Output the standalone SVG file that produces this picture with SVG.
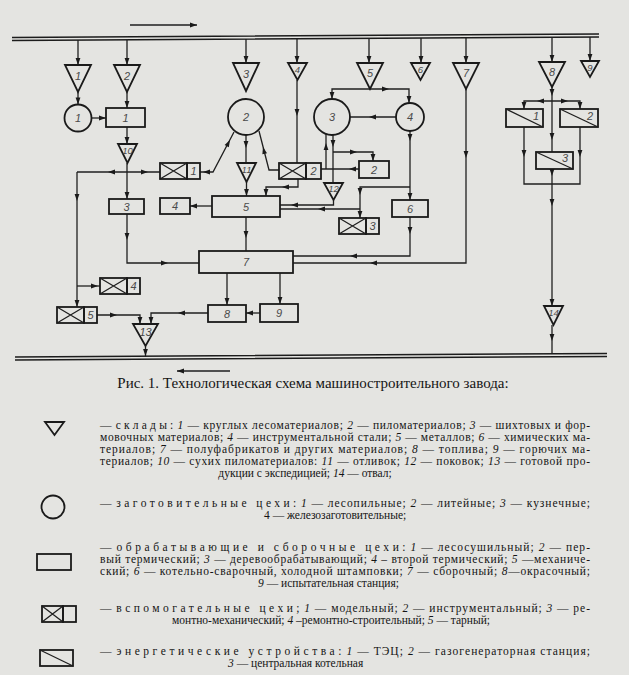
<svg xmlns="http://www.w3.org/2000/svg" xmlns:xlink="http://www.w3.org/1999/xlink" width="629" height="675" viewBox="0 0 629 675">
<style>
.ln{fill:none;stroke:#1f1f1f;stroke-width:1.3}
.rl{fill:none;stroke:#1c1c1c;stroke-width:1.5}
.nd{fill:none;stroke:#1a1a1a;stroke-width:1.8}
.lb{font-family:"Liberation Sans",Arial,sans-serif;font-style:italic;font-size:11px;fill:#4a4a4a;text-anchor:middle}
.sm{font-size:9.5px}
.tx{font-family:"Liberation Serif","Times New Roman",serif;font-size:11.5px;fill:#141414}
.it{font-style:italic}
.sp{letter-spacing:2.5px}
.ttl{font-family:"Liberation Serif","Times New Roman",serif;font-size:15px;fill:#141414;text-anchor:middle}
</style>
<defs>
<path id="ah" d="M0,0 L-7,-2.4 L-7,2.4 Z" fill="#1a1a1a"/>
<g id="xb"><rect class="nd" x="0" y="0" width="27" height="16"/><path class="ln" d="M0,0 L27,16 M0,16 L27,0"/></g>
</defs>
<rect x="0" y="0" width="629" height="675" fill="#e4e4e1"/>

<!-- rails -->
<g id="rails">
<path class="rl" d="M12,37.5 L599,34 M12,40.5 L599,37"/>
<path class="ln" d="M130,25 L197,25"/><use href="#ah" transform="translate(197,25)"/>
<path class="rl" d="M15,357 L607,353.5 M15,360 L607,356.5"/>
<path class="ln" d="M177,371 L230,371"/><use href="#ah" transform="translate(177,371) rotate(180)"/>
</g>

<!-- connectors -->
<g id="connectors">
<path class="ln" d="M78,40 V65 M127,40 V65 M246,39 V63 M297,39 V63 M369,38 V63 M421,38 V63 M466,38 V63 M552,37 V62 M590,37 V61"/>
<use href="#ah" transform="translate(78,65) rotate(90)"/>
<use href="#ah" transform="translate(127,65) rotate(90)"/>
<use href="#ah" transform="translate(246,63) rotate(90)"/>
<use href="#ah" transform="translate(297,63) rotate(90)"/>
<use href="#ah" transform="translate(369,63) rotate(90)"/>
<use href="#ah" transform="translate(421,63) rotate(90)"/>
<use href="#ah" transform="translate(466,63) rotate(90)"/>
<use href="#ah" transform="translate(552,62) rotate(90)"/>
<use href="#ah" transform="translate(590,61) rotate(90)"/>
<!-- left column -->
<path class="ln" d="M78,92 V104.5"/><use href="#ah" transform="translate(78,104.5) rotate(90)"/>
<path class="ln" d="M91.5,118 H106"/><use href="#ah" transform="translate(106,118)"/>
<path class="ln" d="M127,92 V108"/><use href="#ah" transform="translate(127,108) rotate(90)"/>
<path class="ln" d="M127,127 V144"/><use href="#ah" transform="translate(127,144) rotate(90)"/>
<path class="ln" d="M127,163 V199"/><use href="#ah" transform="translate(127,199) rotate(90)"/>
<path class="ln" d="M77,172 H160"/><use href="#ah" transform="translate(108,172) rotate(180)"/><use href="#ah" transform="translate(148,172)"/>
<path class="ln" d="M77,172 V307"/><use href="#ah" transform="translate(77,201) rotate(90)"/><use href="#ah" transform="translate(77,307) rotate(90)"/>
<path class="ln" d="M77,286 H100"/><use href="#ah" transform="translate(98,286)"/>
<path class="ln" d="M127,214 V263 H199"/><use href="#ah" transform="translate(127,240) rotate(90)"/><use href="#ah" transform="translate(168,263)"/>
<!-- foundry -->
<path class="ln" d="M200,172 H213 L234,132"/><use href="#ah" transform="translate(203,172) rotate(180)"/><use href="#ah" transform="translate(230,140) rotate(-62)"/>
<path class="ln" d="M246,135 V163"/><use href="#ah" transform="translate(246,148) rotate(90)"/>
<path class="ln" d="M246.5,182 V196"/><use href="#ah" transform="translate(246.5,196) rotate(90)"/>
<path class="ln" d="M259,131 L269,170 H279"/><use href="#ah" transform="translate(263,147) rotate(-104)"/>
<path class="ln" d="M297,80 V163"/><use href="#ah" transform="translate(297,116) rotate(90)"/>
<path class="ln" d="M298,179 V187 H266 V196"/><use href="#ah" transform="translate(282,187) rotate(180)"/><use href="#ah" transform="translate(266,196) rotate(90)"/>
<!-- forge -->
<path class="ln" d="M359,169 H321"/><use href="#ah" transform="translate(349,169) rotate(180)"/>
<path class="ln" d="M326,169 V134"/><use href="#ah" transform="translate(326,143) rotate(-90)"/>
<path class="ln" d="M333,135 V183"/><use href="#ah" transform="translate(333,147) rotate(90)"/>
<path class="ln" d="M333,152 H373 V161"/><use href="#ah" transform="translate(357,152)"/><use href="#ah" transform="translate(373,161) rotate(90)"/>
<path class="ln" d="M333.5,200 V205 H280"/><use href="#ah" transform="translate(291,205) rotate(180)"/>
<path class="ln" d="M332,99 V89 H409 V103"/><use href="#ah" transform="translate(332,99) rotate(90)"/><use href="#ah" transform="translate(409,103) rotate(90)"/><use href="#ah" transform="translate(389,89)"/>
<path class="ln" d="M396,117 H350"/><use href="#ah" transform="translate(369,117) rotate(180)"/>
<path class="ln" d="M410,131 V200"/><use href="#ah" transform="translate(410,141) rotate(90)"/><use href="#ah" transform="translate(410,200) rotate(90)"/>
<path class="ln" d="M410,187 H360 V218"/><use href="#ah" transform="translate(360,195) rotate(90)"/><use href="#ah" transform="translate(360,218) rotate(90)"/>
<path class="ln" d="M360,209 H280"/><use href="#ah" transform="translate(318,209) rotate(180)"/>
<path class="ln" d="M410,217 V256 H293"/><use href="#ah" transform="translate(410,234) rotate(90)"/><use href="#ah" transform="translate(350,256) rotate(180)"/>
<path class="ln" d="M466,89 V263 H293"/><use href="#ah" transform="translate(466,158) rotate(90)"/><use href="#ah" transform="translate(370,263) rotate(180)"/>
<!-- machining / assembly -->
<path class="ln" d="M212,206 H190"/><use href="#ah" transform="translate(190,206) rotate(180)"/>
<path class="ln" d="M246,217 V251"/><use href="#ah" transform="translate(246,238) rotate(90)"/>
<path class="ln" d="M227,273 V305"/><use href="#ah" transform="translate(227,305) rotate(90)"/>
<path class="ln" d="M280,273 V304"/><use href="#ah" transform="translate(280,304) rotate(90)"/>
<path class="ln" d="M260,313 H246"/><use href="#ah" transform="translate(246,313) rotate(180)"/>
<path class="ln" d="M208,313 H151 V324"/><use href="#ah" transform="translate(178,313) rotate(180)"/><use href="#ah" transform="translate(151,324) rotate(90)"/>
<path class="ln" d="M97,315 H140 V324"/><use href="#ah" transform="translate(117,315)"/><use href="#ah" transform="translate(140,324) rotate(90)"/>
<path class="ln" d="M145.5,346 V357"/><use href="#ah" transform="translate(145.5,356) rotate(90)"/>
<!-- energy -->
<path class="ln" d="M552,87 V152"/><use href="#ah" transform="translate(552,96) rotate(90)"/><use href="#ah" transform="translate(552,140) rotate(90)"/>
<path class="ln" d="M524,109 V101 H580 V109"/><use href="#ah" transform="translate(537,101) rotate(180)"/><use href="#ah" transform="translate(568,101)"/><use href="#ah" transform="translate(524,109) rotate(90)"/><use href="#ah" transform="translate(580,109) rotate(90)"/>
<path class="ln" d="M524,127 V184 H580 V127"/><use href="#ah" transform="translate(524,157) rotate(90)"/><use href="#ah" transform="translate(580,157) rotate(90)"/>
<path class="ln" d="M552,169 V306"/><use href="#ah" transform="translate(552,176) rotate(90)"/><use href="#ah" transform="translate(552,206) rotate(90)"/><use href="#ah" transform="translate(552,306) rotate(90)"/>
<path class="ln" d="M552,325 V354"/><use href="#ah" transform="translate(552,341) rotate(90)"/>
</g>

<!-- storages (triangles) -->
<g id="t1"><path class="nd" d="M65,65 H91 L78,92 Z"/><text class="lb" x="78" y="80">1</text></g>
<g id="t2"><path class="nd" d="M114,65 H140 L127,92 Z"/><text class="lb" x="127" y="80">2</text></g>
<g id="t3"><path class="nd" d="M233,63 H259 L246,91 Z"/><text class="lb" x="246" y="78">3</text></g>
<g id="t4"><path class="nd" d="M288,63 H307 L297.5,80 Z"/><text class="lb sm" x="297.5" y="73">4</text></g>
<g id="t5"><path class="nd" d="M357,63 H383 L370,89 Z"/><text class="lb" x="370" y="77">5</text></g>
<g id="t6"><path class="nd" d="M411,63 H430 L420.5,80 Z"/><text class="lb sm" x="420.5" y="73">6</text></g>
<g id="t7"><path class="nd" d="M453,63 H479 L466,89 Z"/><text class="lb" x="466" y="77">7</text></g>
<g id="t8"><path class="nd" d="M539,62 H565 L552,87 Z"/><text class="lb" x="552" y="76">8</text></g>
<g id="t9"><path class="nd" d="M581,61 H599 L590,77 Z"/><text class="lb sm" x="590" y="71">9</text></g>
<g id="t10"><path class="nd" d="M118,144 H137 L127.5,163 Z"/><text class="lb sm" x="127.5" y="154">10</text></g>
<g id="t11"><path class="nd" d="M237,163 H256 L246.5,182 Z"/><text class="lb sm" x="246.5" y="173">11</text></g>
<g id="t12"><path class="nd" d="M324,183 H343 L333.5,200 Z"/><text class="lb sm" x="333.5" y="192">12</text></g>
<g id="t13"><path class="nd" d="M133,324 H158 L145.5,346 Z"/><text class="lb" x="145.5" y="336">13</text></g>
<g id="t14"><path class="nd" d="M544,306 H563 L553.5,325 Z"/><text class="lb sm" x="553.5" y="316">14</text></g>

<!-- blank shops (circles) -->
<g id="c1"><circle class="nd" cx="78" cy="118" r="13.5"/><text class="lb" x="78" y="122">1</text></g>
<g id="c2"><circle class="nd" cx="246" cy="117" r="18"/><text class="lb" x="246" y="121">2</text></g>
<g id="c3"><circle class="nd" cx="332" cy="117" r="18"/><text class="lb" x="332" y="121">3</text></g>
<g id="c4"><circle class="nd" cx="410" cy="117" r="14"/><text class="lb" x="410" y="121">4</text></g>

<!-- processing shops (rectangles) -->
<g id="r1"><rect class="nd" x="106" y="108" width="39" height="19"/><text class="lb" x="125.5" y="121.5">1</text></g>
<g id="r2"><rect class="nd" x="359" y="161" width="30" height="17"/><text class="lb" x="374" y="173.5">2</text></g>
<g id="r3"><rect class="nd" x="109" y="199" width="35" height="15"/><text class="lb" x="126.5" y="210.5">3</text></g>
<g id="r4"><rect class="nd" x="160" y="198" width="30" height="16"/><text class="lb" x="175" y="210">4</text></g>
<g id="r5"><rect class="nd" x="212" y="196" width="68" height="21"/><text class="lb" x="246" y="210.5">5</text></g>
<g id="r6"><rect class="nd" x="392" y="200" width="36" height="17"/><text class="lb" x="410" y="212.5">6</text></g>
<g id="r7"><rect class="nd" x="199" y="251" width="94" height="22"/><text class="lb" x="246" y="266">7</text></g>
<g id="r8"><rect class="nd" x="208" y="305" width="38" height="17"/><text class="lb" x="227" y="317.5">8</text></g>
<g id="r9"><rect class="nd" x="260" y="304" width="38" height="18"/><text class="lb" x="279" y="317">9</text></g>

<!-- auxiliary shops -->
<g id="a1"><use href="#xb" transform="translate(160,163)"/><rect class="nd" x="187" y="163" width="13" height="16"/><text class="lb" x="193.5" y="175">1</text></g>
<g id="a2"><use href="#xb" transform="translate(279,163)"/><rect class="nd" x="306" y="163" width="15" height="16"/><text class="lb" x="313.5" y="175">2</text></g>
<g id="a3"><use href="#xb" transform="translate(339,218)"/><rect class="nd" x="366" y="218" width="13" height="16"/><text class="lb" x="372.5" y="230">3</text></g>
<g id="a4"><use href="#xb" transform="translate(100,278)"/><rect class="nd" x="127" y="278" width="13" height="16"/><text class="lb" x="133.5" y="290">4</text></g>
<g id="a5"><use href="#xb" transform="translate(57,307)"/><rect class="nd" x="84" y="307" width="13" height="16"/><text class="lb" x="90.5" y="319">5</text></g>

<!-- energy -->
<g id="e1"><rect class="nd" x="506" y="109" width="37" height="18"/><path class="ln" d="M506,109 L543,127"/><text class="lb" x="536" y="120">1</text></g>
<g id="e2"><rect class="nd" x="560" y="109" width="38" height="18"/><path class="ln" d="M560,109 L598,127"/><text class="lb" x="590" y="120">2</text></g>
<g id="e3"><rect class="nd" x="536" y="152" width="37" height="17"/><path class="ln" d="M536,152 L573,169"/><text class="lb" x="565" y="162">3</text></g>

<!-- caption and legend -->
<text class="ttl" x="313" y="388">Рис. 1. Технологическая схема машиностроительного завода:</text>

<g id="leg-tri">
<path class="nd" d="M45,422 H64 L54.5,435 Z"/>
<text class="tx" x="100" y="429" textLength="490" lengthAdjust="spacing">— <tspan class="sp">склады</tspan>: <tspan class="it">1</tspan> — круглых лесоматериалов; <tspan class="it">2</tspan> — пиломатериалов; <tspan class="it">3</tspan> — шихтовых и фор-</text>
<text class="tx" x="100" y="441" textLength="490" lengthAdjust="spacing">мовочных материалов; <tspan class="it">4</tspan> — инструментальной стали; <tspan class="it">5</tspan> — металлов; <tspan class="it">6</tspan> — химических ма-</text>
<text class="tx" x="100" y="453" textLength="490" lengthAdjust="spacing">териалов; <tspan class="it">7</tspan> — полуфабрикатов и других материалов; <tspan class="it">8</tspan> — топлива; <tspan class="it">9</tspan> — горючих ма-</text>
<text class="tx" x="100" y="465" textLength="490" lengthAdjust="spacing">териалов; <tspan class="it">10</tspan> — сухих пиломатериалов: <tspan class="it">11</tspan> — отливок; <tspan class="it">12</tspan> — поковок; <tspan class="it">13</tspan> — готовой про-</text>
<text class="tx" x="305" y="477" text-anchor="middle">дукции с экспедицией; <tspan class="it">14</tspan> — отвал;</text>
</g>

<g id="leg-circ">
<circle class="nd" cx="53" cy="507" r="11.5"/>
<text class="tx" x="100" y="507" textLength="490" lengthAdjust="spacing">— <tspan class="sp">заготовительные цехи</tspan>: <tspan class="it">1</tspan> — лесопильные; <tspan class="it">2</tspan> — литейные; <tspan class="it">3</tspan> — кузнечные;</text>
<text class="tx" x="264" y="519">4 — железозаготовительные;</text>
</g>

<g id="leg-rect">
<rect class="nd" x="37" y="554" width="34" height="16"/>
<text class="tx" x="100" y="551" textLength="490" lengthAdjust="spacing">— <tspan class="sp">обрабатывающие и сборочные цехи</tspan>: <tspan class="it">1</tspan> — лесосушильный; <tspan class="it">2</tspan> — пер-</text>
<text class="tx" x="100" y="563" textLength="490" lengthAdjust="spacing">вый термический; <tspan class="it">3</tspan> — деревообрабатывающий; <tspan class="it">4</tspan> – второй термический; <tspan class="it">5</tspan> —механиче-</text>
<text class="tx" x="100" y="575" textLength="490" lengthAdjust="spacing">ский; <tspan class="it">6</tspan> — котельно-сварочный, холодной штамповки; <tspan class="it">7</tspan> — сборочный; <tspan class="it">8</tspan>—окрасочный;</text>
<text class="tx" x="258" y="587"><tspan class="it">9</tspan> — испытательная станция;</text>
</g>

<g id="leg-aux">
<rect class="nd" x="42" y="606" width="21" height="16"/><path class="ln" d="M42,606 L63,622 M42,622 L63,606"/><rect class="nd" x="63" y="606" width="13" height="16"/>
<text class="tx" x="100" y="612" textLength="490" lengthAdjust="spacing">— <tspan class="sp">вспомогательные цехи</tspan>; <tspan class="it">1</tspan> — модельный; <tspan class="it">2</tspan> — инструментальный; <tspan class="it">3</tspan> — ре-</text>
<text class="tx" x="172" y="624">монтно-механический; <tspan class="it">4</tspan> –ремонтно-строительный; <tspan class="it">5</tspan> — тарный;</text>
</g>

<g id="leg-en">
<rect class="nd" x="40" y="650" width="33" height="16"/><path class="ln" d="M40,650 L73,666"/>
<text class="tx" x="100" y="655" textLength="490" lengthAdjust="spacing">— <tspan class="sp">энергетические устройства</tspan>: <tspan class="it">1</tspan> — ТЭЦ; <tspan class="it">2</tspan> — газогенераторная станция;</text>
<text class="tx" x="228" y="667"><tspan class="it">3</tspan> — центральная котельная</text>
</g>
</svg>
